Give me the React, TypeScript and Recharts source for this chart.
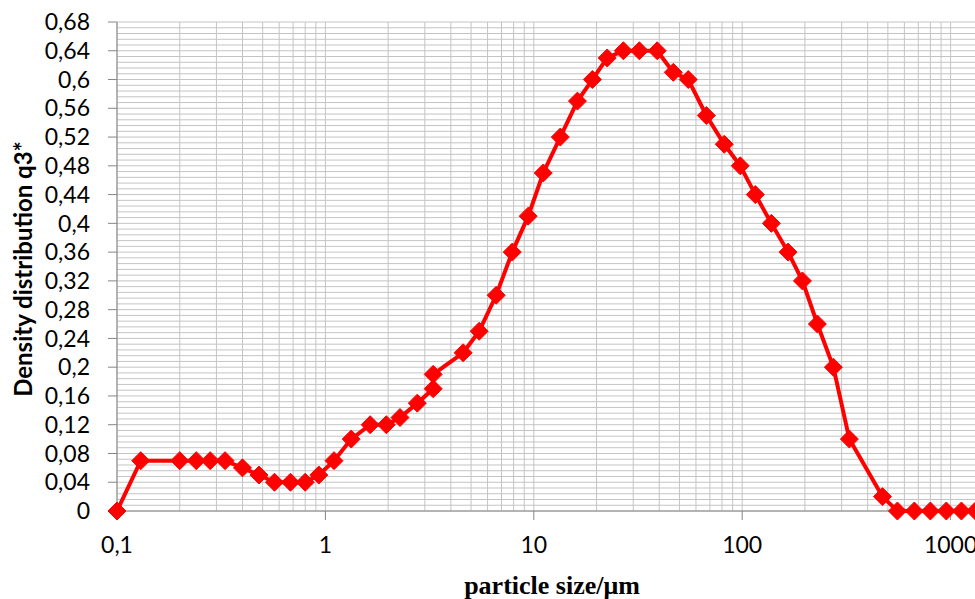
import { CartesianGrid, Line, LineChart, XAxis, YAxis } from 'recharts'

// particle size classes (µm) and the measured density q3*
const sizes = [
  0.1, 0.13, 0.2, 0.24, 0.28, 0.33, 0.4, 0.48, 0.57, 0.68, 0.8, 0.93, 1.1, 1.33,
  1.64, 1.96, 2.28, 2.76, 3.29, 3.29, 4.58, 5.47, 6.6, 7.88, 9.4, 11.1, 13.4,
  16.2, 19.1, 22.5, 26.9, 32.1, 39.1, 46.7, 55.1, 67.3, 82, 97.9, 115.6, 138,
  166, 194.5, 229.5, 273.8, 326.7, 470.9, 555.6, 670, 800, 954, 1127, 1315,
]
const q3 = [
  0, 0.07, 0.07, 0.07, 0.07, 0.07, 0.06, 0.05, 0.04, 0.04, 0.04, 0.05, 0.07, 0.1,
  0.12, 0.12, 0.13, 0.15, 0.17, 0.19, 0.22, 0.25, 0.3, 0.36, 0.41, 0.47, 0.52,
  0.57, 0.6, 0.63, 0.64, 0.64, 0.64, 0.61, 0.6, 0.55, 0.51, 0.48, 0.44, 0.4,
  0.36, 0.32, 0.26, 0.2, 0.1, 0.02, 0, 0, 0, 0, 0, 0,
]

const xTicks = [0.1, 1, 10, 100, 1000]
const yTicks = [
  0, 0.04, 0.08, 0.12, 0.16, 0.2, 0.24, 0.28, 0.32, 0.36, 0.4, 0.44, 0.48, 0.52,
  0.56, 0.6, 0.64, 0.68,
]

const data = sizes.map((size, i) => ({ size, q3: q3[i] }))

// log grid: 1..9 per decade; horizontal minor step 0.008
const vGrid: number[] = []
for (let d = -1; d <= 3; d++) {
  for (let k = 1; k <= 9; k++) vGrid.push(Number((k * Math.pow(10, d)).toPrecision(3)))
}
vGrid.push(10000)
const hGrid: number[] = []
for (let i = 0; i <= 85; i++) hGrid.push(Math.round(i * 8) / 1000)

const fmt = (v: number) => String(Number(v.toFixed(2))).replace('.', ',')

const Diamond = (props: any) => {
  const { cx, cy } = props
  if (cx == null || cy == null) return null
  const r = 9
  return (
    <polygon
      points={`${cx},${cy - r} ${cx + r},${cy} ${cx},${cy + r} ${cx - r},${cy}`}
      fill="#ff0000"
      stroke="#ff0000"
      strokeWidth={1}
    />
  )
}

const tickStyle = { fill: '#000', fontSize: 23, fontFamily: 'Lato' }

export default function App() {
  return (
    <div
      style={{
        position: 'absolute',
        left: 0,
        top: 0,
        width: 975,
        height: 599,
        overflow: 'hidden',
        background: '#fff',
      }}
    >
      <LineChart
        width={1169}
        height={599}
        data={data}
        margin={{ top: 22, right: 10, left: 0, bottom: 28 }}
      >
        <CartesianGrid
          stroke="#c4c4c4"
          horizontalValues={hGrid}
          verticalValues={vGrid}
        />
        <XAxis
          dataKey="size"
          type="number"
          scale="log"
          domain={[0.1, 10000]}
          ticks={xTicks}
          interval={0}
          tickFormatter={fmt}
          tick={tickStyle}
          tickSize={9}
          tickMargin={17}
          stroke="#868686"
          height={60}
        />
        <YAxis
          type="number"
          domain={[0, 0.68]}
          ticks={yTicks}
          interval={0}
          tickFormatter={fmt}
          tick={tickStyle}
          tickSize={9}
          tickMargin={18}
          stroke="#868686"
          width={117}
        />
        <Line
          dataKey="q3"
          type="linear"
          stroke="#ff0000"
          strokeWidth={4}
          dot={<Diamond />}
          activeDot={false}
          isAnimationActive={false}
        />
      </LineChart>
      <div
        style={{
          position: 'absolute',
          left: 22,
          top: 269,
          transform: 'translate(-50%, -50%) rotate(-90deg)',
          whiteSpace: 'nowrap',
          fontFamily: 'Lato',
          fontWeight: 700,
          fontSize: 24,
          color: '#000',
        }}
      >
        Density distribution q3*
      </div>
      <div
        style={{
          position: 'absolute',
          left: 552,
          top: 586,
          transform: 'translate(-50%, -50%)',
          whiteSpace: 'nowrap',
          fontFamily: '"Liberation Serif"',
          fontWeight: 700,
          fontSize: 26,
          color: '#000',
        }}
      >
        particle size/μm
      </div>
    </div>
  )
}
